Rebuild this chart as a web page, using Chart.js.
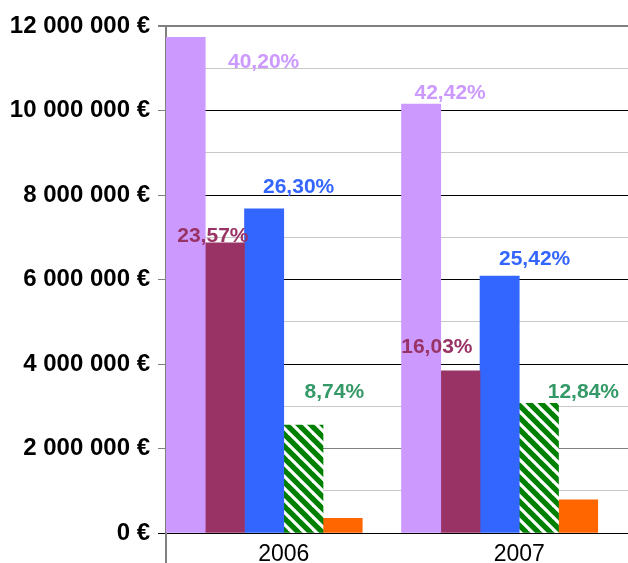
<!DOCTYPE html>
<html>
<head>
<meta charset="utf-8">
<script src="https://cdn.jsdelivr.net/npm/chart.js@4/dist/chart.umd.min.js"></script>
<style>
html, body { margin: 0; padding: 0; overflow: hidden; background: #fff; }
#wrap { width: 637px; height: 563px; }
</style>
</head>
<body>
<div id="wrap"><canvas id="c" width="637" height="563"></canvas></div>
<script>
// ---- data ----
const categories = ['2006', '2007'];
const seriesNames = ['Série 1', 'Série 2', 'Série 3', 'Série 4', 'Série 5', 'Série 6'];
const series1 = [11730000, 10150000];
const series2 = [6865000, 3836000];
const series3 = [7670000, 6083000];
const series4 = [2555000, 3072000];
const series5 = [347000, 787000];
const series6 = [null, null];
const pct1 = ['40,20%', '42,42%'];
const pct2 = ['23,57%', '16,03%'];
const pct3 = ['26,30%', '25,42%'];
const pct4 = ['8,74%', '12,84%'];
const yTickMax = 12000000;
const yTickStep = 1000000;

// ---- styles ----
function hatch() {
  const n = 12;
  const pc = document.createElement('canvas');
  pc.width = n; pc.height = n;
  const g = pc.getContext('2d');
  g.fillStyle = '#008000';
  g.fillRect(0, 0, n, n);
  g.strokeStyle = '#ffffff';
  g.lineWidth = 3.2;
  for (let c = -n; c <= n; c += n) {
    g.beginPath();
    g.moveTo(-2, c - 2);
    g.lineTo(n + 2, c + n + 2);
    g.stroke();
  }
  return g.createPattern(pc, 'repeat');
}
const fmt = v => String(v).replace(/\B(?=(\d{3})+(?!\d))/g, ' ') + ' €';

const pctPlugin = {
  id: 'pctLabels',
  afterDatasetsDraw(chart, args, opts) {
    const ctx = chart.ctx;
    ctx.save();
    ctx.font = opts.font;
    ctx.textAlign = 'center';
    ctx.textBaseline = 'middle';
    opts.labels.forEach((labs, i) => {
      if (!labs) return;
      const meta = chart.getDatasetMeta(i);
      ctx.fillStyle = opts.colors[i];
      meta.data.forEach((bar, j) => {
        const off = opts.offsets[i][j];
        ctx.fillText(labs[j], bar.x + off[0], bar.y + off[1]);
      });
    });
    ctx.restore();
  }
};

new Chart(document.getElementById('c'), {
  type: 'bar',
  data: {
    labels: categories,
    datasets: [
      { label: seriesNames[0], data: series1, backgroundColor: '#CC99FF' },
      { label: seriesNames[1], data: series2, backgroundColor: '#993366' },
      { label: seriesNames[2], data: series3, backgroundColor: '#3366FF' },
      { label: seriesNames[3], data: series4, backgroundColor: hatch() },
      { label: seriesNames[4], data: series5, backgroundColor: '#FF6600' },
      { label: seriesNames[5], data: series6, backgroundColor: '#999999' }
    ]
  },
  options: {
    responsive: false,
    animation: false,
    devicePixelRatio: 1,
    datasets: { bar: { barPercentage: 1, categoryPercentage: 1, borderWidth: 0 } },
    layout: { padding: { top: 26, left: 0, right: 0, bottom: 0 } },
    plugins: {
      legend: { display: false },
      tooltip: { enabled: false },
      pctLabels: {
        font: 'bold 21px "Liberation Sans", Arial, sans-serif',
        labels: [pct1, pct2, pct3, pct4, null, null],
        colors: ['#CC99FF', '#993366', '#3366FF', '#339966'],
        offsets: [
          [[78, 25], [29, -11]],
          [[-12, -7], [-23.5, -24]],
          [[34.5, -22], [35, -17]],
          [[31, -33], [44.5, -11.5]]
        ]
      }
    },
    scales: {
      x: {
        offset: true,
        afterFit: s => { s.height = 30; },
        grid: {
          display: true,
          offset: true,
          drawOnChartArea: false,
          drawTicks: true,
          tickLength: 30,
          lineWidth: 2,
          color: c => c.index === 0 ? '#808080' : 'rgba(0,0,0,0)'
        },
        border: { display: true, color: '#000000', width: 1 },
        ticks: {
          color: '#000000',
          padding: -22,
          font: { family: '"Liberation Sans", Arial, sans-serif', size: 23 }
        }
      },
      y: {
        min: 0,
        max: yTickMax,
        afterFit: s => { s.width = 166; },
        ticks: {
          stepSize: yTickStep,
          autoSkip: false,
          padding: 8,
          color: '#000000',
          font: { family: '"Liberation Sans", Arial, sans-serif', size: 24, weight: 'bold' },
          callback: v => (v % (2 * yTickStep) === 0 ? fmt(v) : '')
        },
        grid: {
          tickLength: 8,
          color: c => {
            const v = c.tick.value;
            if (v === yTickMax) return '#808080';
            if (v === 0) return '#000000';
            if ((v / yTickStep) % 2 === 1) return '#c8c8c8';
            if (v === 2 * yTickStep) return '#808080';
            return '#000000';
          },
          tickColor: c => {
            const v = c.tick.value;
            if ((v / yTickStep) % 2 === 1) return 'rgba(0,0,0,0)';
            if (v === 0) return '#000000';
            return '#808080';
          },
          lineWidth: c => (c.tick.value === yTickMax ? 2 : 1)
        },
        border: { display: true, color: '#808080', width: 2 }
      }
    }
  },
  plugins: [pctPlugin]
});
</script>
</body>
</html>
